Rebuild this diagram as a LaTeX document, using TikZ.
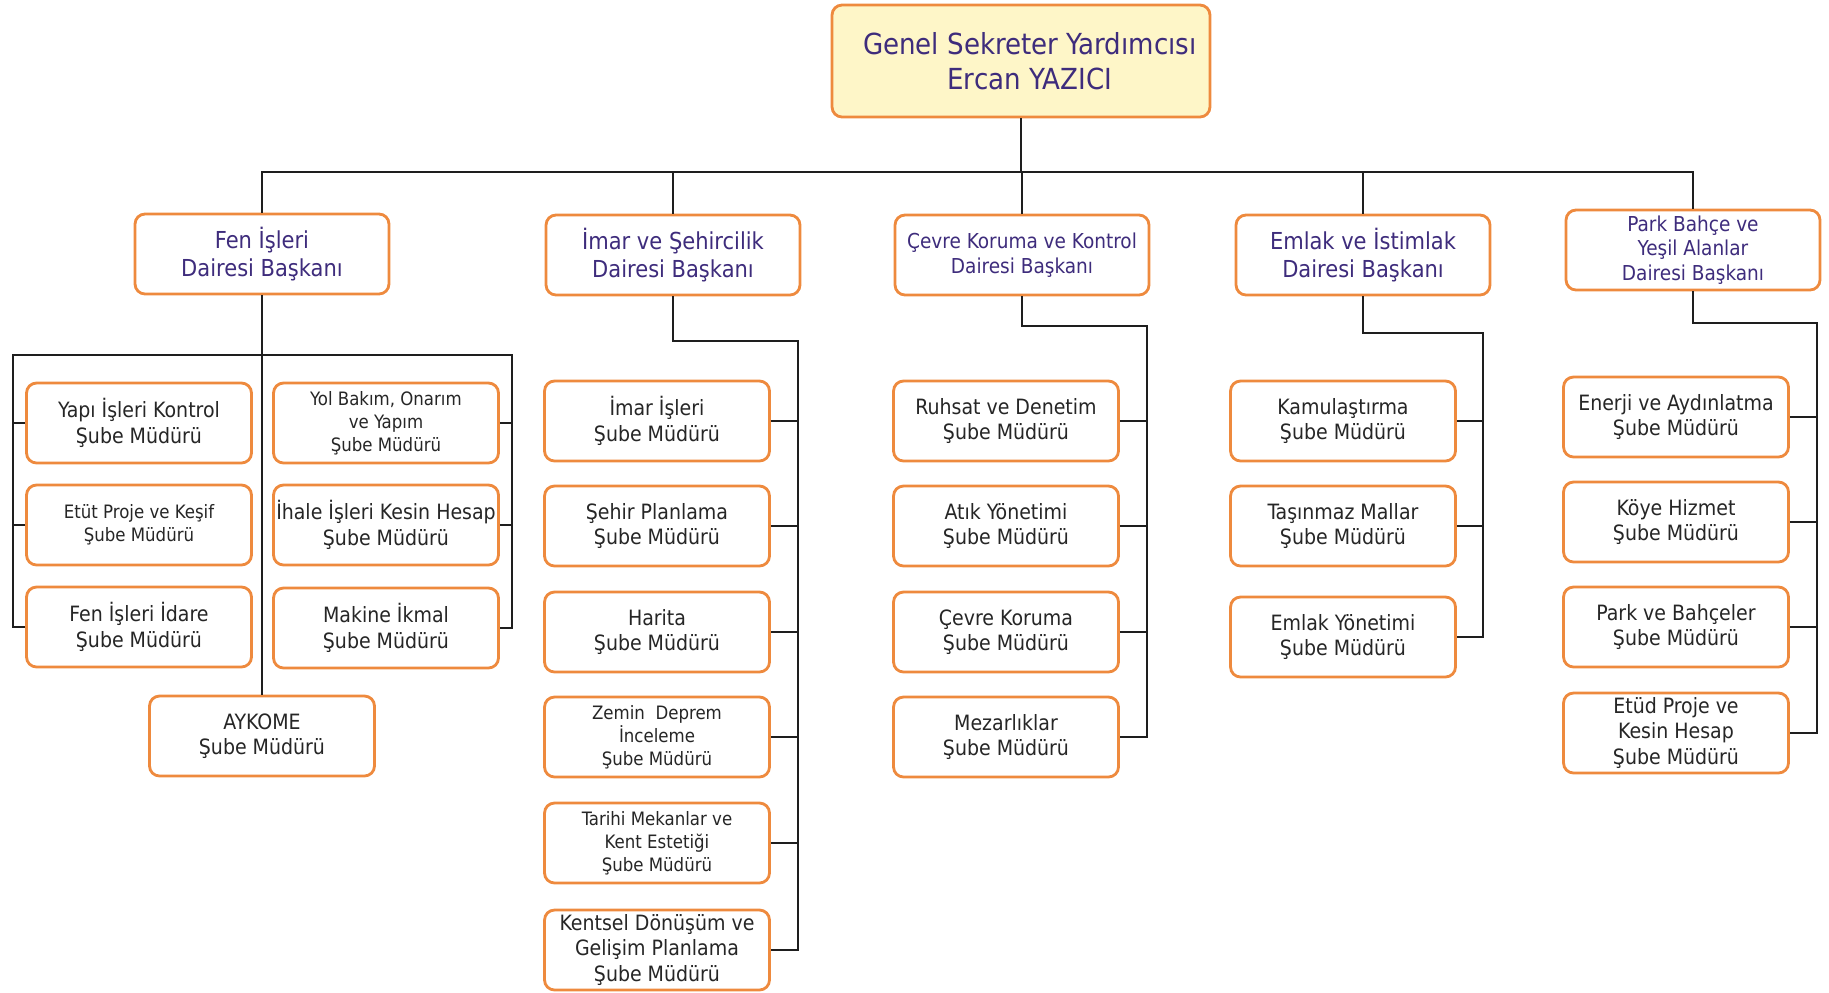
\documentclass[tikz,border=0pt]{standalone}
\usepackage{fontspec}
\setmainfont{DejaVu Sans Condensed}
\usepackage{tikz}
\definecolor{boxorange}{HTML}{EE8A3E}
\definecolor{headpurple}{HTML}{3E2C7C}
\definecolor{leafgray}{HTML}{262626}
\definecolor{paleyellow}{HTML}{FEF6C8}
\definecolor{linegray}{HTML}{1E1E1E}
\tikzset{
  unitbox/.style={draw=boxorange, line width=1.6pt, rounded corners=0.2cm, fill=white, align=center, inner sep=0pt},
  topbox/.style={unitbox, fill=paleyellow, minimum width=7.56cm, minimum height=2.24cm, text=headpurple, font=\fontsize{16.5}{20}\selectfont},
  deptbox/.style={unitbox, minimum width=5.08cm, minimum height=1.6cm, text=headpurple, font=\fontsize{13.3}{16}\selectfont},
  smalldept/.style={deptbox, font=\fontsize{11.7}{14}\selectfont},
  subbox/.style={unitbox, minimum width=4.5cm, minimum height=1.6cm, text=leafgray, font=\fontsize{12}{14.5}\selectfont},
  smallsub/.style={subbox, font=\fontsize{10.5}{13}\selectfont},
  link/.style={draw=linegray, line width=1.6pt}
}

\begin{document}
\begin{tikzpicture}[x=0.02cm, y=-0.02cm]
		\useasboundingbox (0,0) rectangle (1829,992);
		%%%%% TOP %%%%%
		\node[topbox] (gsy) at (1021,61) {\hspace*{0.35cm}Genel Sekreter Yardımcısı\\\hspace*{0.35cm}Ercan YAZICI};
		\coordinate (bus) at (0,172);
		
		%%%%% DAIRE BASKANLARI %%%%%
		\node[deptbox] (fen) at (262,254) {Fen İşleri\\Dairesi Başkanı};
		\node[deptbox] (imar) at (673,255) {İmar ve Şehircilik\\Dairesi Başkanı};
		\node[smalldept] (cevre) at (1022,255) {Çevre Koruma ve Kontrol\\Dairesi Başkanı};
		\node[deptbox] (emlak) at (1363,255) {Emlak ve İstimlak\\Dairesi Başkanı};
		\node[smalldept] (park) at (1693,250) {Park Bahçe ve\\Yeşil Alanlar\\Dairesi Başkanı};
		
		\draw[link] (gsy) -- (gsy |- bus);
		\draw[link] (fen.north) -- (fen.north |- bus) -- (park.north |- bus) -- (park.north);
		\foreach \d in {imar,cevre,emlak}
			\draw[link] (\d.north) -- (\d.north |- bus);
		
		%%%%% FEN ISLERI %%%%%
		\node[subbox] (fen1) at (139,423) {Yapı İşleri Kontrol\\Şube Müdürü};
		\node[smallsub] (fen2) at (139,525) {Etüt Proje ve Keşif\\Şube Müdürü};
		\node[subbox] (fen3) at (139,627) {Fen İşleri İdare\\Şube Müdürü};
		\node[smallsub] (fen4) at (386,423) {Yol Bakım, Onarım\\ve Yapım\\Şube Müdürü};
		\node[subbox] (fen5) at (386,525) {İhale İşleri Kesin Hesap\\Şube Müdürü};
		\node[subbox] (fen6) at (386,628) {Makine İkmal\\Şube Müdürü};
		\node[subbox] (fen7) at (262,736) {AYKOME\\Şube Müdürü};
		
		\coordinate (fenL) at (13,355);
		\coordinate (fenR) at (512,355);
		\draw[link] (fen.south) -- (fen7.north);
		\draw[link] (fen3.west) -| (fenL) -- (fenR) |- (fen6.east);
		\foreach \n in {1,2}
			\draw[link] (fen\n.west) -- (fen\n.west -| fenL);
		\foreach \n in {4,5}
			\draw[link] (fen\n.east) -- (fen\n.east -| fenR);
		
		%%%%% IMAR %%%%%
		\node[subbox] (imar1) at (657,421) {İmar İşleri\\Şube Müdürü};
		\node[subbox] (imar2) at (657,526) {Şehir Planlama\\Şube Müdürü};
		\node[subbox] (imar3) at (657,632) {Harita\\Şube Müdürü};
		\node[smallsub] (imar4) at (657,737) {Zemin~~Deprem\\İnceleme\\Şube Müdürü};
		\node[smallsub] (imar5) at (657,843) {Tarihi Mekanlar ve\\Kent Estetiği\\Şube Müdürü};
		\node[subbox] (imar6) at (657,950) {Kentsel Dönüşüm ve\\Gelişim Planlama\\Şube Müdürü};
		
		\coordinate (imarC) at (798,341);
		\draw[link] (imar.south) |- (imarC) |- (imar6.east);
		\foreach \n in {1,...,5}
			\draw[link] (imar\n.east) -- (imar\n.east -| imarC);
		
		%%%%% CEVRE %%%%%
		\node[subbox] (cevre1) at (1006,421) {Ruhsat ve Denetim\\Şube Müdürü};
		\node[subbox] (cevre2) at (1006,526) {Atık Yönetimi\\Şube Müdürü};
		\node[subbox] (cevre3) at (1006,632) {Çevre Koruma\\Şube Müdürü};
		\node[subbox] (cevre4) at (1006,737) {Mezarlıklar\\Şube Müdürü};
		
		\coordinate (cevreC) at (1147,326);
		\draw[link] (cevre.south) |- (cevreC) |- (cevre4.east);
		\foreach \n in {1,2,3}
			\draw[link] (cevre\n.east) -- (cevre\n.east -| cevreC);
		
		%%%%% EMLAK %%%%%
		\node[subbox] (emlak1) at (1343,421) {Kamulaştırma\\Şube Müdürü};
		\node[subbox] (emlak2) at (1343,526) {Taşınmaz Mallar\\Şube Müdürü};
		\node[subbox] (emlak3) at (1343,637) {Emlak Yönetimi\\Şube Müdürü};
		
		\coordinate (emlakC) at (1483,333);
		\draw[link] (emlak.south) |- (emlakC) |- (emlak3.east);
		\foreach \n in {1,2}
			\draw[link] (emlak\n.east) -- (emlak\n.east -| emlakC);
		
		%%%%% PARK BAHCE %%%%%
		\node[subbox] (park1) at (1676,417) {Enerji ve Aydınlatma\\Şube Müdürü};
		\node[subbox] (park2) at (1676,522) {Köye Hizmet\\Şube Müdürü};
		\node[subbox] (park3) at (1676,627) {Park ve Bahçeler\\Şube Müdürü};
		\node[subbox] (park4) at (1676,733) {Etüd Proje ve\\Kesin Hesap\\Şube Müdürü};
		
		\coordinate (parkC) at (1817,323);
		\draw[link] (park.south) |- (parkC) |- (park4.east);
		\foreach \n in {1,2,3}
			\draw[link] (park\n.east) -- (park\n.east -| parkC);
		%%%%% END %%%%%
\end{tikzpicture}
\end{document}
